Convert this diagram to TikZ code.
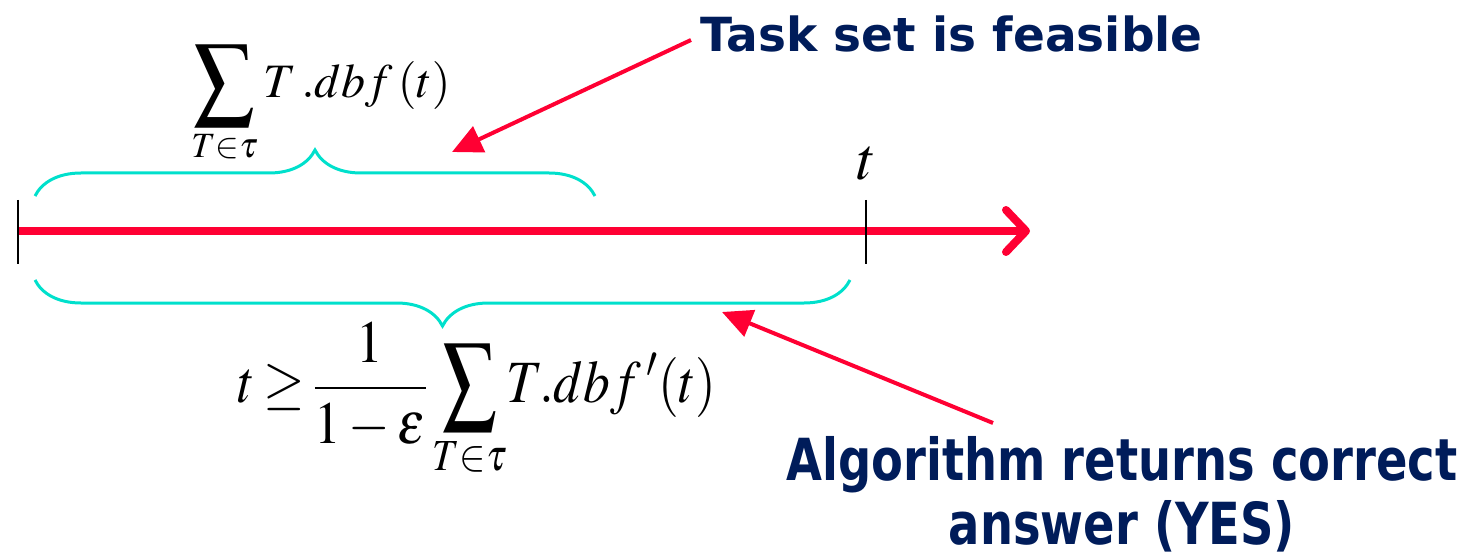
\documentclass[tikz,border=0pt]{standalone}
\usepackage{mathptmx}
\usepackage{fontspec}
\newfontfamily\calloutfont{DejaVu Sans}
\newfontfamily\tallcalloutfont{DejaVu Sans}[FakeStretch=0.8]
\usetikzlibrary{arrows.meta, decorations.pathreplacing, calc}
\definecolor{axisred}{RGB}{255,0,51}
\definecolor{bracecyan}{RGB}{0,224,204}
\definecolor{labelnavy}{RGB}{0,28,90}
% a sum sign stretched to the size of the slide's one
\newcommand{\tallsum}[2]{\mathop{\vcenter{\hbox{\scalebox{#1}[#2]{$\displaystyle\sum$}}}}\limits}

\begin{document}
\begin{tikzpicture}[
    x=1pt, y=-1pt,
    % Define styles for reusable components
    timeline/.style={draw=axisred, line width=8pt, -{Straight Barb[length=20pt, width=42pt, round]}},
    tickmark/.style={draw=black, line width=1.6pt},
    curly/.style={draw=bracecyan, line width=3pt, decorate, decoration={brace, amplitude=46pt}},
    curlydown/.style={curly, decoration={brace, mirror, amplitude=46pt}},
    pointer/.style={draw=axisred, line width=4pt, -{Triangle[length=30pt, width=28pt]}},
    callout/.style={text=labelnavy, font=\fontsize{47}{60}\selectfont\calloutfont\bfseries},
    tallcallout/.style={text=labelnavy, align=center, font=\fontsize{58}{64}\selectfont\tallcalloutfont\bfseries},
    mathbig/.style={inner sep=0pt, font=\fontsize{60}{66}\selectfont},
    mathsmall/.style={inner sep=0pt, font=\fontsize{48}{52}\selectfont}
]
    \useasboundingbox (0,0) rectangle (1478,556);

    % --- TIME AXIS ---
    \coordinate (origin) at (18,231);
    \coordinate (axisend) at (1030,231);
    \coordinate (deadline) at (866,231);
    \draw[timeline] (origin) -- (axisend);
    \draw[tickmark] ($(origin)+(0,-31)$) -- ($(origin)+(0,33)$);
    \draw[tickmark] ($(deadline)+(0,-31)$) -- ($(deadline)+(0,33)$);
    \node[mathbig, anchor=south] (tlabel) at (867,180) {$t$};

    % --- BRACES ---
    \coordinate (topL) at (35,196);
    \coordinate (topR) at (595,196);
    \draw[curly] (topL) -- (topR);
    \coordinate (botL) at (35,280);
    \coordinate (botR) at (850,280);
    \draw[curlydown] (botL) -- (botR);

    % --- FORMULAS ---
    \node[mathsmall] (demand) at (321,104) {$\tallsum{1.25}{1.38}_{T\in\tau}T\,.dbf\,(t)$};
    \node[mathbig] (bound) at (477,400) {\scalebox{0.89}[1]{\thickmuskip=3mu $\displaystyle t\geq\frac{1}{1-\varepsilon}\tallsum{1.0}{1.18}_{T\in\tau}\!T.dbf\,'(t)$}};

    % --- CALLOUTS ---
    \node[callout, anchor=west] (feasible) at (697,34) {Task set is feasible};
    \node[tallcallout] (algorithm) at (1122,494) {Algorithm returns correct\\answer (YES)};
    \coordinate (tipA) at (452,152);
    \draw[pointer] ($(feasible.west)+(-6,6)$) -- (tipA);
    \coordinate (startB) at (993,423);
    \coordinate (tipB) at (722,312);
    \draw[pointer] (startB) -- (tipB);

\end{tikzpicture}
\end{document}
